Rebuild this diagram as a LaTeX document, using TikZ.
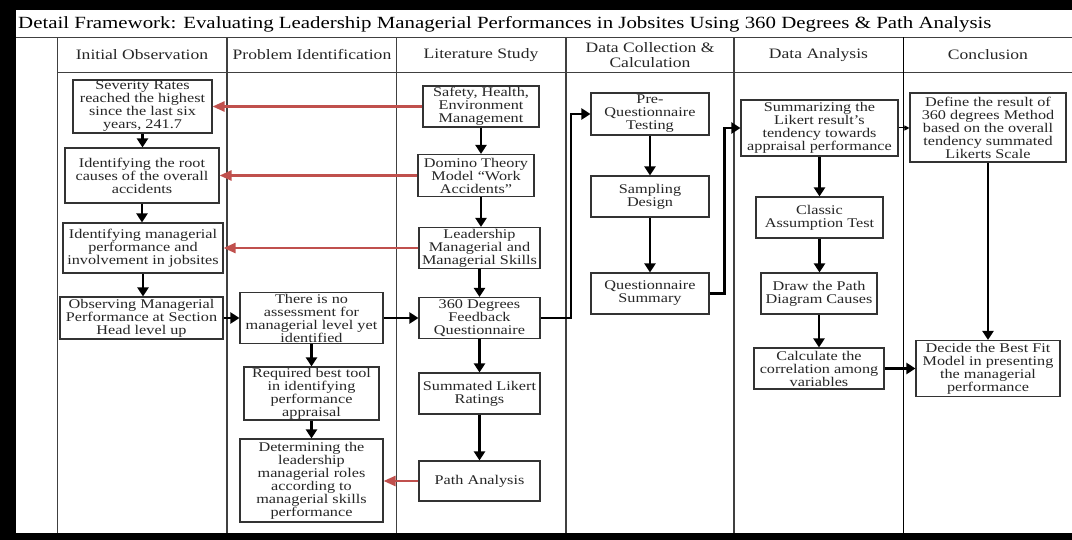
\documentclass[tikz,border=0pt]{standalone}
\usepackage{fontspec}
\setmainfont{Liberation Serif}[FakeStretch=1.22]
\usetikzlibrary{arrows.meta}
\definecolor{redline}{RGB}{192,80,77}
\newcommand{\boxfont}{\fontsize{13.3}{13}\selectfont}
\newcommand{\headfont}{\fontsize{14.4}{14.2}\selectfont}
\newcommand{\titlefont}{\fontsize{17.1}{18}\selectfont}
\begin{document}
\begin{tikzpicture}[x=1pt,y=-1pt,
  box/.style={draw=black!80,line width=1.1pt,fill=white,align=center,inner sep=1pt,font=\boxfont,text=black!85},
  arr/.style={line width=2.6pt,-{Triangle[length=9pt,width=11pt]}},
  redarr/.style={draw=redline,line width=2.4pt,-{Triangle[length=12pt,width=10pt]}},
  lane/.style={line width=1.2pt,black!75},
  head/.style={font=\headfont,align=center,text=black!85}]
% Frame, title and lanes
\fill (0,0) rectangle (1072,540);
\fill[white] (16,10) rectangle (1072,533);
\useasboundingbox (0,0) rectangle (1072,540);
\draw[lane] (16,37.5) -- (1072,37.5);
\draw[lane] (57.5,72.5) -- (1072,72.5);
\foreach \x in {57.5,227,396.5,566,734} \draw[lane] (\x,37.5) -- (\x,533);
\draw[lane,line width=1.7pt,black] (903.5,37.5) -- (903.5,533);
\node[anchor=west,font=\titlefont,inner sep=1pt] (title) at (17,24) {Detail Framework: Evaluating Leadership Managerial Performances in Jobsites Using 360 Degrees \& Path Analysis};
\node[head] (h1) at (142,55) {Initial Observation};
\node[head] (h2) at (312,55) {Problem Identification};
\node[head] (h3) at (481,55) {Literature Study};
\node[head] (h4) at (650,55) {Data Collection \&\\Calculation};
\node[head] (h5) at (818.5,55) {Data Analysis};
\node[head] (h6) at (988,55) {Conclusion};
% Initial observation
\node[box,minimum width=139pt,minimum height=53pt] (sev) at (142.5,106.5) {Severity Rates\\reached the highest\\since the last six\\years, 241.7};
\node[box,minimum width=154pt,minimum height=55pt] (root) at (142,175.5) {Identifying the root\\causes of the overall\\accidents};
\node[box,minimum width=160pt,minimum height=50pt] (ident) at (143,248) {Identifying managerial\\performance and\\involvement in jobsites};
\node[box,minimum width=163pt,minimum height=42pt] (obs) at (141.5,318) {Observing Managerial\\Performance at Section\\Head level up};
% Problem identification
\node[box,minimum width=143pt,minimum height=50pt] (noass) at (311.5,318) {There is no\\assessment for\\managerial level yet\\identified};
\node[box,minimum width=135pt,minimum height=49pt] (req) at (311.5,393.5) {Required best tool\\in identifying\\performance\\appraisal};
\node[box,minimum width=143pt,minimum height=83pt] (det) at (311.5,480.5) {Determining the\\leadership\\managerial roles\\according to\\managerial skills\\performance};
% Literature study
\node[box,minimum width=116pt,minimum height=41pt] (safety) at (481,106.5) {Safety, Health,\\Environment\\Management};
\node[box,minimum width=116pt,minimum height=42pt] (domino) at (476,175.5) {Domino Theory\\Model “Work\\Accidents”};
\node[box,minimum width=121pt,minimum height=41pt] (lead) at (479.5,248) {Leadership\\Managerial and\\Managerial Skills};
\node[box,minimum width=121pt,minimum height=41pt] (deg) at (479.5,318) {360 Degrees\\Feedback\\Questionnaire};
\node[box,minimum width=121pt,minimum height=41pt] (likert) at (479.5,393.5) {Summated Likert\\Ratings};
\node[box,minimum width=121pt,minimum height=40pt] (path) at (479.5,481) {Path Analysis};
% Data collection
\node[box,minimum width=118pt,minimum height=42pt] (pre) at (650,114) {Pre-\\Questionnaire\\Testing};
\node[box,minimum width=118pt,minimum height=41pt] (samp) at (650,196.5) {Sampling\\Design};
\node[box,minimum width=118pt,minimum height=41pt] (qsum) at (650,293.5) {Questionnaire\\Summary};
% Data analysis
\node[box,minimum width=157pt,minimum height=56pt] (summ) at (819.5,128) {Summarizing the\\Likert result’s\\tendency towards\\appraisal performance};
\node[box,minimum width=127pt,minimum height=41pt] (classic) at (819.5,217.5) {Classic\\Assumption Test};
\node[box,minimum width=116pt,minimum height=41pt] (drawp) at (819,293.5) {Draw the Path\\Diagram Causes};
\node[box,minimum width=130pt,minimum height=41pt] (calc) at (819,368.5) {Calculate the\\correlation among\\variables};
% Conclusion
\node[box,minimum width=156pt,minimum height=69pt] (define) at (988,127.5) {Define the result of\\360 degrees Method\\based on the overall\\tendency summated\\Likerts Scale};
\node[box,minimum width=144pt,minimum height=56pt] (decide) at (988,368.5) {Decide the Best Fit\\Model in presenting\\the managerial\\performance};
% Black flow
\draw[arr] (sev.south) -- (sev.south |- root.north);
\draw[arr] (root.south) -- (root.south |- ident.north);
\draw[arr] (ident.south) -- (ident.south |- obs.north);
\draw[arr] (obs.east) -- (noass.west);
\draw[arr] (noass.south) -- (noass.south |- req.north);
\draw[arr] (req.south) -- (req.south |- det.north);
\draw[arr] (noass.east) -- (deg.west);
\draw[arr] (safety.south) -- (safety.south |- domino.north);
\draw[arr] (safety.south |- domino.south) -- (safety.south |- lead.north);
\draw[arr] (lead.south) -- (lead.south |- deg.north);
\draw[arr] (deg.south) -- (deg.south |- likert.north);
\draw[arr] (likert.south) -- (likert.south |- path.north);
\draw[arr] (deg.east) -- ++(30.5,0) |- (pre.west);
\draw[arr] (pre.south) -- (pre.south |- samp.north);
\draw[arr] (samp.south) -- (samp.south |- qsum.north);
\draw[arr] (qsum.east) -- ++(15,0) |- (summ.west);
\draw[arr] (summ.south) -- (summ.south |- classic.north);
\draw[arr] (classic.south) -- (classic.south |- drawp.north);
\draw[arr] (drawp.south) -- (drawp.south |- calc.north);
\draw[arr] (calc.east) -- (calc.east -| decide.west);
\draw[arr] (define.south) -- (define.south |- decide.north);
\draw[line width=1pt,-{Triangle[length=5pt,width=5pt]}] (summ.east) -- (summ.east -| define.west);
% Red links back to the observations
\draw[redarr] (safety.west) -- (safety.west -| sev.east);
\draw[redarr] (domino.west) -- (domino.west -| root.east);
\draw[redarr] (lead.west) -- (lead.west -| ident.east);
\draw[redarr] (path.west) -- (path.west -| det.east);
\end{tikzpicture}
\end{document}
